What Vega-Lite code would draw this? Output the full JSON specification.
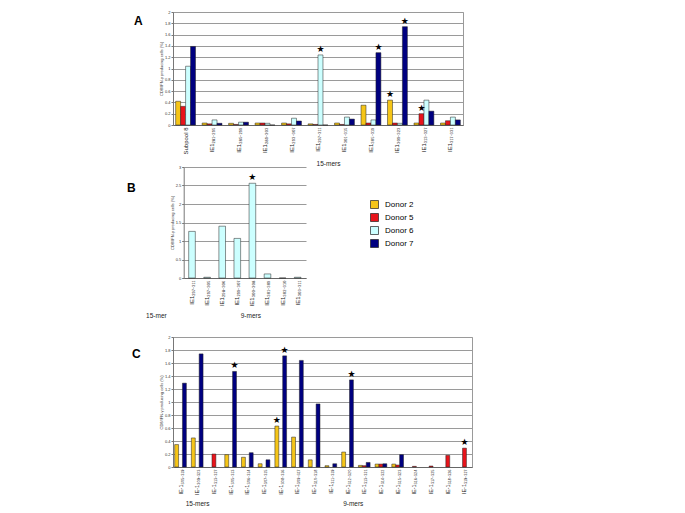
{
  "$schema": "https://vega.github.io/schema/vega-lite/v6.json",
  "background": "white",
  "padding": {"left": 126, "top": 9, "right": 0, "bottom": 0},
  "config": {
    "font": "Liberation Sans",
    "view": {"stroke": "#9a9a9a", "strokeWidth": 1},
    "axisY": {"grid": true, "gridColor": "#9a9a9a", "labelFontSize": 4, "labelColor": "#333", "tickSize": 2, "tickColor": "#777", "domainColor": "#777", "titleFontSize": 4, "titleFontWeight": "normal", "titleColor": "#333", "titlePadding": 1, "labelPadding": 1, "format": "~g"},
    "axisX": {"labelAngle": 270, "labelFontSize": 6, "labelColor": "#222", "ticks": false, "domainColor": "#666", "labelPadding": 2, "titleFontSize": 6.5, "titleFontWeight": "normal", "titleColor": "#222"},
    "title": {"fontSize": 12, "fontWeight": "bold", "color": "#000"},
    "legend": {"symbolType": "square", "symbolSize": 64, "symbolStrokeColor": "#222", "symbolStrokeWidth": 0.7, "labelFontSize": 8, "labelColor": "#000", "rowPadding": 2, "labelOffset": 6}
  },
  "datasets": {
    "A": [
      {"peptide": "Subpool 8", "donor": "Donor 2", "value": 0.42, "star": false},
      {"peptide": "Subpool 8", "donor": "Donor 5", "value": 0.33, "star": false},
      {"peptide": "Subpool 8", "donor": "Donor 6", "value": 1.04, "star": false},
      {"peptide": "Subpool 8", "donor": "Donor 7", "value": 1.39, "star": false},
      {"peptide": "IE1₂₈₁₋₂₉₅", "donor": "Donor 2", "value": 0.035, "star": false},
      {"peptide": "IE1₂₈₁₋₂₉₅", "donor": "Donor 5", "value": 0.02, "star": false},
      {"peptide": "IE1₂₈₁₋₂₉₅", "donor": "Donor 6", "value": 0.09, "star": false},
      {"peptide": "IE1₂₈₁₋₂₉₅", "donor": "Donor 7", "value": 0.03, "star": false},
      {"peptide": "IE1₂₈₅₋₂₉₉", "donor": "Donor 2", "value": 0.03, "star": false},
      {"peptide": "IE1₂₈₅₋₂₉₉", "donor": "Donor 5", "value": 0.01, "star": false},
      {"peptide": "IE1₂₈₅₋₂₉₉", "donor": "Donor 6", "value": 0.05, "star": false},
      {"peptide": "IE1₂₈₅₋₂₉₉", "donor": "Donor 7", "value": 0.05, "star": false},
      {"peptide": "IE1₂₈₉₋₃₀₃", "donor": "Donor 2", "value": 0.035, "star": false},
      {"peptide": "IE1₂₈₉₋₃₀₃", "donor": "Donor 5", "value": 0.035, "star": false},
      {"peptide": "IE1₂₈₉₋₃₀₃", "donor": "Donor 6", "value": 0.03, "star": false},
      {"peptide": "IE1₂₈₉₋₃₀₃", "donor": "Donor 7", "value": 0, "star": false},
      {"peptide": "IE1₂₉₃₋₃₀₇", "donor": "Donor 2", "value": 0.035, "star": false},
      {"peptide": "IE1₂₉₃₋₃₀₇", "donor": "Donor 5", "value": 0.02, "star": false},
      {"peptide": "IE1₂₉₃₋₃₀₇", "donor": "Donor 6", "value": 0.12, "star": false},
      {"peptide": "IE1₂₉₃₋₃₀₇", "donor": "Donor 7", "value": 0.07, "star": false},
      {"peptide": "IE1₂₉₇₋₃₁₁", "donor": "Donor 2", "value": 0.02, "star": false},
      {"peptide": "IE1₂₉₇₋₃₁₁", "donor": "Donor 5", "value": 0.01, "star": false},
      {"peptide": "IE1₂₉₇₋₃₁₁", "donor": "Donor 6", "value": 1.24, "star": true},
      {"peptide": "IE1₂₉₇₋₃₁₁", "donor": "Donor 7", "value": 0, "star": false},
      {"peptide": "IE1₃₀₁₋₃₁₅", "donor": "Donor 2", "value": 0.035, "star": false},
      {"peptide": "IE1₃₀₁₋₃₁₅", "donor": "Donor 5", "value": 0.01, "star": false},
      {"peptide": "IE1₃₀₁₋₃₁₅", "donor": "Donor 6", "value": 0.14, "star": false},
      {"peptide": "IE1₃₀₁₋₃₁₅", "donor": "Donor 7", "value": 0.105, "star": false},
      {"peptide": "IE1₃₀₅₋₃₁₉", "donor": "Donor 2", "value": 0.35, "star": false},
      {"peptide": "IE1₃₀₅₋₃₁₉", "donor": "Donor 5", "value": 0.035, "star": false},
      {"peptide": "IE1₃₀₅₋₃₁₉", "donor": "Donor 6", "value": 0.09, "star": false},
      {"peptide": "IE1₃₀₅₋₃₁₉", "donor": "Donor 7", "value": 1.28, "star": true},
      {"peptide": "IE1₃₀₉₋₃₂₃", "donor": "Donor 2", "value": 0.44, "star": true},
      {"peptide": "IE1₃₀₉₋₃₂₃", "donor": "Donor 5", "value": 0.035, "star": false},
      {"peptide": "IE1₃₀₉₋₃₂₃", "donor": "Donor 6", "value": 0.03, "star": false},
      {"peptide": "IE1₃₀₉₋₃₂₃", "donor": "Donor 7", "value": 1.74, "star": true},
      {"peptide": "IE1₃₁₃₋₃₂₇", "donor": "Donor 2", "value": 0.035, "star": false},
      {"peptide": "IE1₃₁₃₋₃₂₇", "donor": "Donor 5", "value": 0.2, "star": true},
      {"peptide": "IE1₃₁₃₋₃₂₇", "donor": "Donor 6", "value": 0.44, "star": false},
      {"peptide": "IE1₃₁₃₋₃₂₇", "donor": "Donor 7", "value": 0.245, "star": false},
      {"peptide": "IE1₃₁₇₋₃₃₁", "donor": "Donor 2", "value": 0.035, "star": false},
      {"peptide": "IE1₃₁₇₋₃₃₁", "donor": "Donor 5", "value": 0.075, "star": false},
      {"peptide": "IE1₃₁₇₋₃₃₁", "donor": "Donor 6", "value": 0.14, "star": false},
      {"peptide": "IE1₃₁₇₋₃₃₁", "donor": "Donor 7", "value": 0.09, "star": false}
    ],
    "B": [
      {"peptide": "IE1₂₉₇₋₃₁₁", "donor": "Donor 6", "value": 1.26, "star": false},
      {"peptide": "IE1₂₉₇₋₃₀₅", "donor": "Donor 6", "value": 0.02, "star": false},
      {"peptide": "IE1₂₉₈₋₃₀₆", "donor": "Donor 6", "value": 1.4, "star": false},
      {"peptide": "IE1₂₉₉₋₃₀₇", "donor": "Donor 6", "value": 1.07, "star": false},
      {"peptide": "IE1₃₀₀₋₃₀₈", "donor": "Donor 6", "value": 2.56, "star": true},
      {"peptide": "IE1₃₀₁₋₃₀₉", "donor": "Donor 6", "value": 0.11, "star": false},
      {"peptide": "IE1₃₀₂₋₃₁₀", "donor": "Donor 6", "value": 0, "star": false},
      {"peptide": "IE1₃₀₃₋₃₁₁", "donor": "Donor 6", "value": 0.02, "star": false}
    ],
    "C": [
      {"peptide": "IE-1₃₀₅₋₃₁₉", "donor": "Donor 2", "value": 0.345, "star": false},
      {"peptide": "IE-1₃₀₅₋₃₁₉", "donor": "Donor 7", "value": 1.29, "star": false},
      {"peptide": "IE-1₃₀₉₋₃₂₃", "donor": "Donor 2", "value": 0.447, "star": false},
      {"peptide": "IE-1₃₀₉₋₃₂₃", "donor": "Donor 7", "value": 1.74, "star": false},
      {"peptide": "IE-1₃₁₃₋₃₂₇", "donor": "Donor 5", "value": 0.2, "star": false},
      {"peptide": "IE-1₃₀₅₋₃₁₃", "donor": "Donor 2", "value": 0.19, "star": false},
      {"peptide": "IE-1₃₀₅₋₃₁₃", "donor": "Donor 7", "value": 1.47, "star": true},
      {"peptide": "IE-1₃₀₆₋₃₁₄", "donor": "Donor 2", "value": 0.15, "star": false},
      {"peptide": "IE-1₃₀₆₋₃₁₄", "donor": "Donor 7", "value": 0.22, "star": false},
      {"peptide": "IE-1₃₀₇₋₃₁₅", "donor": "Donor 2", "value": 0.05, "star": false},
      {"peptide": "IE-1₃₀₇₋₃₁₅", "donor": "Donor 7", "value": 0.11, "star": false},
      {"peptide": "IE-1₃₀₈₋₃₁₆", "donor": "Donor 2", "value": 0.63, "star": true},
      {"peptide": "IE-1₃₀₈₋₃₁₆", "donor": "Donor 7", "value": 1.71, "star": true},
      {"peptide": "IE-1₃₀₉₋₃₁₇", "donor": "Donor 2", "value": 0.46, "star": false},
      {"peptide": "IE-1₃₀₉₋₃₁₇", "donor": "Donor 7", "value": 1.64, "star": false},
      {"peptide": "IE-1₃₁₀₋₃₁₈", "donor": "Donor 2", "value": 0.11, "star": false},
      {"peptide": "IE-1₃₁₀₋₃₁₈", "donor": "Donor 7", "value": 0.97, "star": false},
      {"peptide": "IE-1₃₁₁₋₃₁₉", "donor": "Donor 2", "value": 0.02, "star": false},
      {"peptide": "IE-1₃₁₁₋₃₁₉", "donor": "Donor 7", "value": 0.05, "star": false},
      {"peptide": "IE-1₃₁₂₋₃₂₀", "donor": "Donor 2", "value": 0.23, "star": false},
      {"peptide": "IE-1₃₁₂₋₃₂₀", "donor": "Donor 7", "value": 1.34, "star": true},
      {"peptide": "IE-1₃₁₃₋₃₂₁", "donor": "Donor 2", "value": 0.025, "star": false},
      {"peptide": "IE-1₃₁₃₋₃₂₁", "donor": "Donor 5", "value": 0.02, "star": false},
      {"peptide": "IE-1₃₁₃₋₃₂₁", "donor": "Donor 7", "value": 0.07, "star": false},
      {"peptide": "IE-1₃₁₄₋₃₂₂", "donor": "Donor 2", "value": 0.045, "star": false},
      {"peptide": "IE-1₃₁₄₋₃₂₂", "donor": "Donor 5", "value": 0.045, "star": false},
      {"peptide": "IE-1₃₁₄₋₃₂₂", "donor": "Donor 7", "value": 0.05, "star": false},
      {"peptide": "IE-1₃₁₅₋₃₂₃", "donor": "Donor 2", "value": 0.045, "star": false},
      {"peptide": "IE-1₃₁₅₋₃₂₃", "donor": "Donor 5", "value": 0.03, "star": false},
      {"peptide": "IE-1₃₁₅₋₃₂₃", "donor": "Donor 7", "value": 0.19, "star": false},
      {"peptide": "IE-1₃₁₆₋₃₂₄", "donor": "Donor 5", "value": 0.01, "star": false},
      {"peptide": "IE-1₃₁₇₋₃₂₅", "donor": "Donor 5", "value": 0.015, "star": false},
      {"peptide": "IE-1₃₁₈₋₃₂₆", "donor": "Donor 5", "value": 0.18, "star": false},
      {"peptide": "IE-1₃₁₉₋₃₂₇", "donor": "Donor 5", "value": 0.29, "star": true}
    ]
  },
  "spacing": -4,
  "resolve": {"scale": {"xOffset": "independent"}},
  "vconcat": [
    {
      "width": 290, "height": 113,
      "title": {"text": "A", "orient": "left", "angle": 0, "anchor": "end", "align": "right", "baseline": "top", "offset": 8, "dy": 6},
      "data": {"name": "A"},
      "encoding": {
        "x": {"field": "peptide", "type": "nominal", "sort": null, "scale": {"paddingInner": 0.25, "paddingOuter": 0.1},
              "axis": {"title": "15-mers", "titleX": 155, "titleY": 38, "titleBaseline": "middle", "titleAlign": "center"}},
        "xOffset": {"field": "donor", "type": "nominal", "scale": {"domain": ["Donor 2", "Donor 5", "Donor 6", "Donor 7"]}},
        "y": {"field": "value", "type": "quantitative", "scale": {"domain": [0, 2]},
              "axis": {"values": [0, 0.2, 0.4, 0.6, 0.8, 1, 1.2, 1.4, 1.6, 1.8, 2], "title": "CD8/IFN-γ producing cells (%)"}}
      },
      "layer": [
        {"mark": {"type": "bar", "stroke": "#222", "strokeWidth": 0.5},
         "encoding": {"color": {"field": "donor", "type": "nominal",
           "scale": {"domain": ["Donor 2", "Donor 5", "Donor 6", "Donor 7"], "range": ["#F5C518", "#E8141B", "#CCFFFF", "#000080"]},
           "legend": {"title": null, "orient": "none", "legendX": 197, "legendY": 188}}}},
        {"mark": {"type": "text", "font": "DejaVu Sans", "fontSize": 9, "baseline": "bottom", "dy": -1, "color": "#000"},
         "encoding": {"text": {"condition": {"test": "datum.star", "value": "★"}, "value": ""}}}
      ]
    },
    {
      "spacing": 15,
      "resolve": {"scale": {"xOffset": "independent"}},
      "vconcat": [
        {
          "width": 133, "height": 111,
          "view": {"stroke": null},
          "title": {"text": "B", "orient": "left", "angle": 0, "anchor": "end", "align": "right", "baseline": "top", "offset": 1.3, "dy": 18},
          "data": {"name": "B"},
          "encoding": {
            "x": {"field": "peptide", "type": "nominal", "sort": null, "scale": {"paddingInner": 0.56, "paddingOuter": 0.33, "rangeMin": 10.7},
                  "axis": {"title": "15-mer\u00a0\u00a0\u00a0\u00a0\u00a0\u00a0\u00a0\u00a0\u00a0\u00a0\u00a0\u00a0\u00a0\u00a0\u00a0\u00a0\u00a0\u00a0\u00a0\u00a0\u00a0\u00a0\u00a0\u00a0\u00a0\u00a0\u00a0\u00a0\u00a0\u00a0\u00a0\u00a0\u00a0\u00a0\u00a0\u00a0\u00a0\u00a0\u00a0\u00a0\u00a09-mers", "titleX": 30, "titleY": 37, "titleBaseline": "middle", "titleAlign": "center"}},
            "y": {"field": "value", "type": "quantitative", "scale": {"domain": [0, 3]},
                  "axis": {"offset": -10.7, "values": [0, 0.5, 1, 1.5, 2, 2.5, 3], "title": "CD8/IFN-γ producing cells (%)"}}
          },
          "layer": [
            {"mark": {"type": "bar", "stroke": "#222", "strokeWidth": 0.5},
             "encoding": {"color": {"field": "donor", "type": "nominal",
               "scale": {"domain": ["Donor 2", "Donor 5", "Donor 6", "Donor 7"], "range": ["#F5C518", "#E8141B", "#CCFFFF", "#000080"]},
               "legend": {"title": null, "orient": "none", "legendX": 197, "legendY": 188}}}},
            {"mark": {"type": "text", "font": "DejaVu Sans", "fontSize": 9, "baseline": "bottom", "dy": -1, "color": "#000"},
             "encoding": {"text": {"condition": {"test": "datum.star", "value": "★"}, "value": ""}}}
          ]
        },
        {
          "width": 299, "height": 130,
          "title": {"text": "C", "orient": "left", "angle": 0, "anchor": "end", "align": "right", "baseline": "top", "offset": 10, "dy": 14},
          "data": {"name": "C"},
          "encoding": {
            "x": {"field": "peptide", "type": "nominal", "sort": null, "scale": {"paddingInner": 0.3, "paddingOuter": 0.1},
                  "axis": {"labelFontSize": 5.5, "title": "15-mers\u00a0\u00a0\u00a0\u00a0\u00a0\u00a0\u00a0\u00a0\u00a0\u00a0\u00a0\u00a0\u00a0\u00a0\u00a0\u00a0\u00a0\u00a0\u00a0\u00a0\u00a0\u00a0\u00a0\u00a0\u00a0\u00a0\u00a0\u00a0\u00a0\u00a0\u00a0\u00a0\u00a0\u00a0\u00a0\u00a0\u00a0\u00a0\u00a0\u00a0\u00a0\u00a0\u00a0\u00a0\u00a0\u00a0\u00a0\u00a0\u00a0\u00a0\u00a0\u00a0\u00a0\u00a0\u00a0\u00a0\u00a0\u00a0\u00a0\u00a0\u00a0\u00a0\u00a0\u00a0\u00a0\u00a0\u00a0\u00a0\u00a0\u00a0\u00a0\u00a0\u00a0\u00a09-mers", "titleX": 101, "titleY": 36, "titleBaseline": "middle", "titleAlign": "center"}},
            "xOffset": {"field": "donor", "type": "nominal", "scale": {"domain": ["Donor 2", "Donor 5", "Donor 7"]}},
            "y": {"field": "value", "type": "quantitative", "scale": {"domain": [0, 2]},
                  "axis": {"values": [0, 0.2, 0.4, 0.6, 0.8, 1, 1.2, 1.4, 1.6, 1.8, 2], "title": "CD8/IFN-γ producing cells (%)"}}
          },
          "layer": [
            {"mark": {"type": "bar", "stroke": "#222", "strokeWidth": 0.5},
             "encoding": {"color": {"field": "donor", "type": "nominal",
               "scale": {"domain": ["Donor 2", "Donor 5", "Donor 6", "Donor 7"], "range": ["#F5C518", "#E8141B", "#CCFFFF", "#000080"]},
               "legend": {"title": null, "orient": "none", "legendX": 197, "legendY": 188}}}},
            {"mark": {"type": "text", "font": "DejaVu Sans", "fontSize": 9, "baseline": "bottom", "dy": -1, "color": "#000"},
             "encoding": {"text": {"condition": {"test": "datum.star", "value": "★"}, "value": ""}}}
          ]
        }
      ]
    }
  ]
}
